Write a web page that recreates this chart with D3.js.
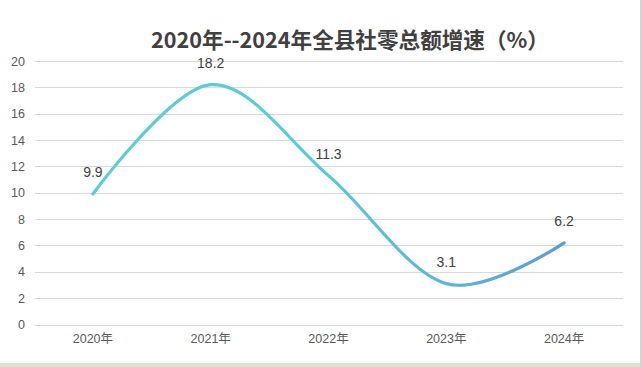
<!DOCTYPE html>
<html><head><meta charset="utf-8">
<script src="https://cdn.jsdelivr.net/npm/d3@7"></script>
<style>html,body{margin:0;padding:0;background:#fff;overflow:hidden}</style>
</head><body>
<svg id="chart" width="642" height="367"></svg>
<script>
const titleText = "2020年--2024年全县社零总额增速（%）";
const categories = ["2020年", "2021年", "2022年", "2023年", "2024年"];
const values = [9.9, 18.2, 11.3, 3.1, 6.2];
const yTicks = [0, 2, 4, 6, 8, 10, 12, 14, 16, 18, 20];

const svg = d3.select("#chart");
const W = 642, H = 367;

svg.append("rect").attr("x", 0).attr("y", 0).attr("width", W).attr("height", H).attr("fill", "#fff");
// bottom green band and right border
svg.append("rect").attr("x", 0).attr("y", 363).attr("width", 640).attr("height", 4).attr("fill", "#d3ead0");
svg.append("rect").attr("x", 640).attr("y", 0).attr("width", 2).attr("height", 367).attr("fill", "#d4d4d4");

const x = d3.scaleBand().domain(categories).range([34, 623]);
const y = d3.scaleLinear().domain([0, 20]).range([324.5, 61]);

// gridlines
svg.append("g").selectAll("line").data(yTicks).join("line")
  .attr("x1", 35).attr("x2", 623)
  .attr("y1", d => Math.round(y(d)) + 0.5).attr("y2", d => Math.round(y(d)) + 0.5)
  .attr("stroke", "#d9d9d9").attr("stroke-width", 1);

// y axis labels
const yAxis = d3.axisLeft(y).tickValues(yTicks).tickSize(0).tickPadding(0);
const gy = svg.append("g").attr("transform", "translate(25,0)").call(yAxis);
gy.select(".domain").remove();
gy.selectAll("text").attr("font-family", "Liberation Sans, Arial, sans-serif")
  .attr("font-size", 12.5).attr("fill", "#595959");

// x axis labels
const xAxis = d3.axisBottom(x).tickSize(0).tickPadding(0);
const gx = svg.append("g").attr("transform", "translate(0,334)").call(xAxis);
gx.select(".domain").remove();
gx.selectAll("text").attr("font-family", "Liberation Sans, 'Noto Sans CJK SC', sans-serif")
  .attr("font-size", 12.5).attr("fill", "#595959");

// gradient
const cx = c => x(c) + x.bandwidth() / 2;
const defs = svg.append("defs");
const grad = defs.append("linearGradient").attr("id", "lg")
  .attr("gradientUnits", "userSpaceOnUse")
  .attr("x1", cx(categories[0])).attr("x2", cx(categories[4])).attr("y1", 0).attr("y2", 0);
grad.append("stop").attr("offset", "0%").attr("stop-color", "#59cfd3");
grad.append("stop").attr("offset", "45%").attr("stop-color", "#5acbd6");
grad.append("stop").attr("offset", "75%").attr("stop-color", "#5bb6d8");
grad.append("stop").attr("offset", "100%").attr("stop-color", "#5b9bd5");

const data = categories.map((c, i) => ({c, v: values[i]}));
const line = d3.line().x(d => cx(d.c)).y(d => y(d.v)).curve(d3.curveCardinal.tension(0));
svg.append("path").datum(data).attr("d", line)
  .attr("fill", "none").attr("stroke", "url(#lg)").attr("stroke-width", 3.2)
  .attr("stroke-linecap", "round").attr("stroke-linejoin", "round");

// data labels
svg.append("g").selectAll("text").data(data).join("text")
  .attr("x", d => cx(d.c)).attr("y", d => y(d.v) - 22)
  .attr("text-anchor", "middle").attr("dominant-baseline", "central")
  .attr("font-family", "Liberation Sans, Arial, sans-serif").attr("font-size", 14)
  .attr("fill", "#404040").text(d => d.v.toFixed(1));

// title
svg.append("text").attr("x", 350).attr("y", 38)
  .attr("text-anchor", "middle").attr("dominant-baseline", "central")
  .attr("font-family", "'Noto Sans CJK SC', sans-serif").attr("font-weight", "bold")
  .attr("font-size", 21.6).attr("fill", "#404040").text(titleText);
</script>
</body></html>
